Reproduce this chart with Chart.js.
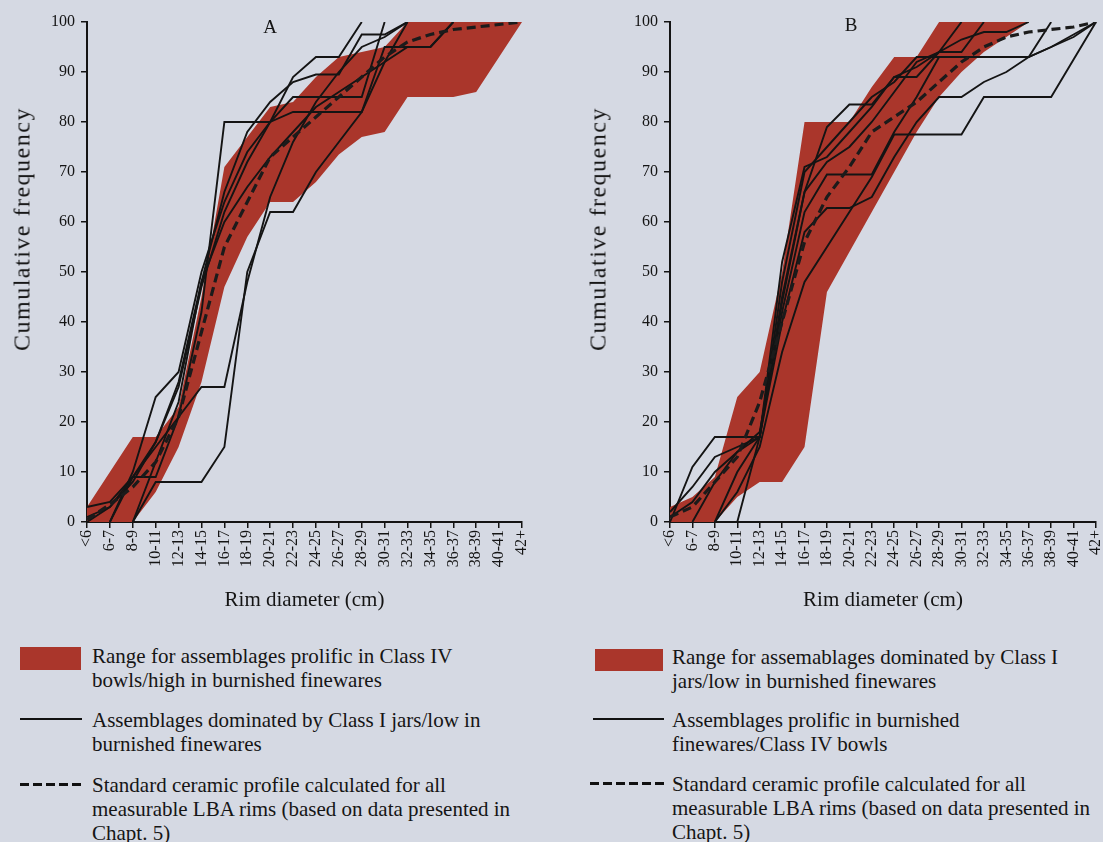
<!DOCTYPE html>
<html>
<head>
<meta charset="utf-8">
<script src="https://cdn.jsdelivr.net/npm/chart.js@4.4.1/dist/chart.umd.min.js"></script>
<style>
  html, body { margin: 0; padding: 0; }
  body {
    position: relative;
    width: 1103px;
    height: 842px;
    overflow: hidden;
    background: #d5d9e3;
    font-family: "Liberation Serif", "Times New Roman", serif;
    color: #151515;
  }
  canvas { position: absolute; top: 0; }
  #chartA { left: 0; }
  #chartB { left: 583px; }
  .txt { position: absolute; white-space: nowrap; font-size: 21px; line-height: 24px; }
  .ytitle { position: absolute; white-space: nowrap; font-size: 24px; letter-spacing: 1.5px; transform: translate(-50%, -50%) rotate(-90deg); }
  .panel { position: absolute; font-size: 19px; transform: translate(-50%, -50%); }
  .swatch { position: absolute; background: #aa362b; }
  svg.key { position: absolute; overflow: visible; }
</style>
</head>
<body>
<canvas id="chartA" width="545" height="625"></canvas>
<canvas id="chartB" width="540" height="625"></canvas>

<div class="ytitle" style="left:22px; top:229px;">Cumulative frequency</div>
<div class="ytitle" style="left:598px; top:229px;">Cumulative frequency</div>
<div class="panel" style="left:270px; top:27px;">A</div>
<div class="panel" style="left:851px; top:25px;">B</div>

<!-- legend A -->
<div class="swatch" style="left:20px; top:647px; width:61px; height:23px;"></div>
<div class="txt" style="left:92px; top:644px;">Range for assemblages prolific in Class IV<br>bowls/high in burnished finewares</div>
<svg class="key" style="left:20px; top:718px;" width="62" height="2"><line x1="0" y1="1" x2="62" y2="1" stroke="#111" stroke-width="2"/></svg>
<div class="txt" style="left:92px; top:708px;">Assemblages dominated by Class I jars/low in<br>burnished finewares</div>
<svg class="key" style="left:20px; top:783px;" width="62" height="3"><line x1="0" y1="1.5" x2="62" y2="1.5" stroke="#111" stroke-width="3" stroke-dasharray="9 4"/></svg>
<div class="txt" style="left:92px; top:773px;">Standard ceramic profile calculated for all<br>measurable LBA rims (based on data presented in<br>Chapt. 5)</div>

<!-- legend B -->
<div class="swatch" style="left:595px; top:649px; width:68px; height:22px;"></div>
<div class="txt" style="left:672px; top:645px;">Range for assemablages dominated by Class I<br>jars/low in burnished finewares</div>
<svg class="key" style="left:593px; top:718px;" width="71" height="2"><line x1="0" y1="1" x2="71" y2="1" stroke="#111" stroke-width="2"/></svg>
<div class="txt" style="left:672px; top:708px;">Assemblages prolific in burnished<br>finewares/Class IV bowls</div>
<svg class="key" style="left:590px; top:782px;" width="75" height="3"><line x1="0" y1="1.5" x2="75" y2="1.5" stroke="#111" stroke-width="3" stroke-dasharray="9 4"/></svg>
<div class="txt" style="left:672px; top:772px;">Standard ceramic profile calculated for all<br>measurable LBA rims (based on data presented in<br>Chapt. 5)</div>

<script>
const categories = ["<6", "6-7", "8-9", "10-11", "12-13", "14-15", "16-17", "18-19", "20-21", "22-23",
  "24-25", "26-27", "28-29", "30-31", "32-33", "34-35", "36-37", "38-39", "40-41", "42+"];

// panel A
const rangeUpperA = [3, 10, 17, 17, 23, 45, 71, 77, 83, 84, 89, 93, 94, 95, 100, 100, 100, 100, 100, 100];
const rangeLowerA = [0, 0, 0, 6, 15, 28, 47, 57, 64, 64, 68, 73.5, 77, 78, 85, 85, 85, 86, 93, 100];
const profileA = [0.5, 3.5, 7, 12, 21, 38, 55, 64, 73, 77, 81, 85, 89, 93, 96, 97.5, 98.5, 99, 99.5, 100];
const assemblageA1 = [1, 3, 9, 16, 27, 47, 62, 72, 80, 85, 85, 85, 85, 100];
const assemblageA2 = [null, 0, 9, 9, 21, 42, 80, 80, 80, 89, 93, 93, 100];
const assemblageA3 = [null, null, 0, 8, 8, 8, 15, 50, 62, 62, 70, 76, 82, 95, 95, 95, 100];
const assemblageA4 = [null, 0, 10, 25, 30, 50, 64, 74, 80, 82, 82, 82, 82, 92, 100];
const assemblageA5 = [3, 4, 9, 15, 21, 27, 27, 48, 65, 76, 84, 90, 95, 97, 100];
const assemblageA6 = [0, 3, 8, 16, 28, 48, 60, 67, 73, 78, 83, 86, 89, 92, 95, 95, 100];
const assemblageA7 = [null, null, 0, 12, 24, 48, 66, 78, 84, 88, 89.5, 89.5, 97.5, 97.5, 100];

// panel B
const rangeUpperB = [3, 5, 9, 25, 30, 50, 80, 80, 80, 87, 93, 93, 100, 100, 100, 100, 100, null, null, null];
const rangeLowerB = [0, 0, 0, 5, 8, 8, 15, 46, 54, 62, 70, 78, 85, 90, 94, 97, 100, null, null, null];
const profileB = [1, 3, 8, 13, 24, 40, 56, 65, 71, 78, 81, 84, 88, 92, 95, 97, 98, 98.5, 99, 100];
const assemblageB1 = [0, 11, 17, 17, 17, 52, 71, 73, 78, 83, 89, 89, 94, 94, 100];
const assemblageB2 = [2, 7, 13, 15, 17, 45, 66, 79, 83.5, 83.5, 89, 91, 94, 96.5, 98, 98, 100];
const assemblageB3 = [null, 0, 8, 14, 18, 42, 62, 69.5, 69.5, 69.5, 78, 85, 93, 93, 93, 93, 93, 100];
const assemblageB4 = [null, null, 0, 10, 17, 40, 58, 62.8, 62.8, 65, 73, 80, 85, 85, 88, 90, 93, 95, 97, 100];
const assemblageB5 = [null, null, null, 0, 17, 44, 66, 72, 75, 80, 86, 92, 94, 100];
const assemblageB6 = [null, null, 0, 6, 15, 34, 48, 55, 62, 69, 77.5, 77.5, 77.5, 77.5, 85, 85, 85, 85, 92.5, 100];
const assemblageB7 = [1, 4, 10, 14, 17, 48, 70, 75, 80, 85, 88, 93, 93, 93, 93, 93, 93, 95, 97.5, 100];

const serif = "'Liberation Serif', 'Times New Roman', serif";
const ink = "#141414";
const bandRed = "#aa362b";

function lineSet(values) {
  return {
    data: values,
    borderColor: ink,
    borderWidth: 1.9,
    pointRadius: 0,
    tension: 0,
    fill: false
  };
}

function buildChart(id, upper, lower, profile, lines, rightPad) {
  const datasets = [
    {
      data: profile,
      borderColor: "#1b1b1b",
      borderWidth: 3.2,
      borderDash: [9, 5],
      pointRadius: 0,
      tension: 0,
      fill: false
    },
    ...lines.map(lineSet),
    {
      data: upper,
      borderWidth: 0,
      borderColor: "rgba(0,0,0,0)",
      backgroundColor: bandRed,
      pointRadius: 0,
      tension: 0,
      fill: "+1"
    },
    {
      data: lower,
      borderWidth: 0,
      borderColor: "rgba(0,0,0,0)",
      pointRadius: 0,
      tension: 0,
      fill: false
    }
  ];

  return new Chart(document.getElementById(id), {
    type: "line",
    data: { labels: categories, datasets: datasets },
    options: {
      responsive: false,
      animation: false,
      layout: { padding: { top: 22, right: rightPad, left: 0, bottom: 0 } },
      plugins: {
        legend: { display: false },
        tooltip: { enabled: false },
        filler: { drawTime: "beforeDatasetsDraw" }
      },
      scales: {
        x: {
          offset: false,
          grid: { drawOnChartArea: false, drawTicks: true, tickLength: 6, color: ink, lineWidth: 1.5 },
          border: { display: true, color: ink, width: 2 },
          ticks: {
            color: ink,
            autoSkip: false,
            minRotation: 90,
            maxRotation: 90,
            padding: 2,
            font: { family: serif, size: 16 }
          },
          title: {
            display: true,
            text: "Rim diameter (cm)",
            color: ink,
            font: { family: serif, size: 21 },
            padding: { top: 0, bottom: 12 }
          },
          afterFit: (scale) => { scale.height = 103; }
        },
        y: {
          min: 0,
          max: 100,
          grid: { drawOnChartArea: false, drawTicks: true, tickLength: 6, color: ink, lineWidth: 1.5 },
          border: { display: true, color: ink, width: 2 },
          ticks: {
            stepSize: 10,
            color: ink,
            padding: 6,
            font: { family: serif, size: 16 }
          },
          afterFit: (scale) => { scale.width = 87; }
        }
      }
    }
  });
}

buildChart("chartA", rangeUpperA, rangeLowerA, profileA,
  [assemblageA1, assemblageA2, assemblageA3, assemblageA4, assemblageA5, assemblageA6, assemblageA7], 23);
buildChart("chartB", rangeUpperB, rangeLowerB, profileB,
  [assemblageB1, assemblageB2, assemblageB3, assemblageB4, assemblageB5, assemblageB6, assemblageB7], 27);
</script>
</body>
</html>
